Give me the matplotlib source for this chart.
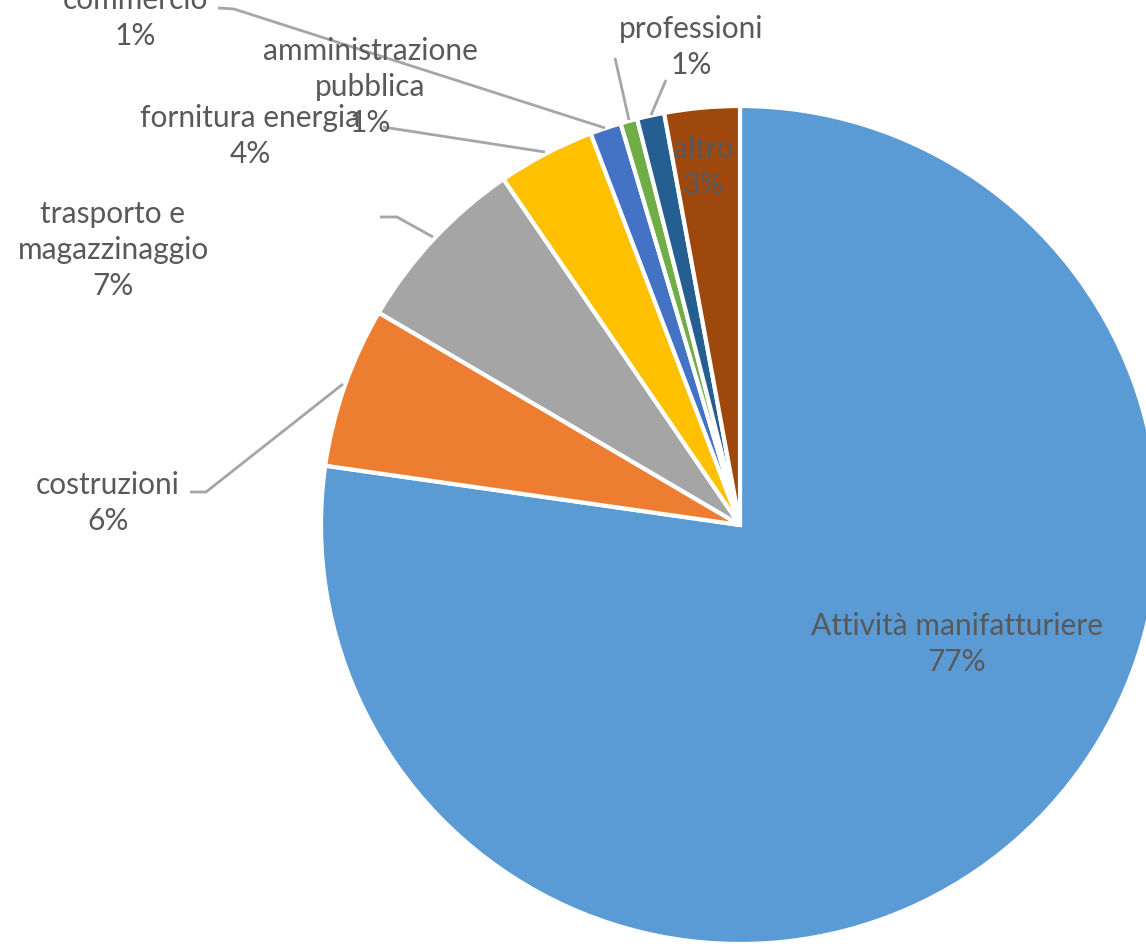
import matplotlib
matplotlib.use('Agg')
import matplotlib.pyplot as plt

labels = ['Attività manifatturiere', 'costruzioni', 'trasporto e\nmagazzinaggio',
          'fornitura energia', 'commercio', 'amministrazione\npubblica',
          'professioni', 'altro']
values = [77.3, 6.2, 7.0, 3.75, 1.2, 0.65, 1.05, 2.9]
colors = ['#5B9BD5', '#ED7D31', '#A5A5A5', '#FFC000', '#4472C4',
          '#70AD47', '#255E91', '#9E480E']

W, H = 1146, 946
fig = plt.figure(figsize=(W / 100, H / 100), dpi=100)
ax = fig.add_axes([0, 0, 1, 1])

# pie centre / radius in pixel units (y measured from bottom)
cx, cy, r = 740, H - 525, 419
ax.pie(values, colors=colors, startangle=90, counterclock=False,
       center=(cx, cy), radius=r,
       wedgeprops=dict(edgecolor='white', linewidth=3))

ax.set_xlim(0, W)
ax.set_ylim(0, H)
ax.set_aspect('equal')
ax.axis('off')

fs = 21.5
txt = dict(fontsize=fs, color='#595959', family=['Lato', 'DejaVu Sans'],
           ha='center', va='center', linespacing=40 / (fs * 100 / 72))

def label(i, x, y):
    s = labels[i] + '\n' + '{:.0f}%'.format(values[i])
    ax.text(x, H - y, s, **txt)

# label positions (pixels, from top) -- text block centres
label(0, 957, 644)
label(1, 108, 503)
label(2, 113, 250)
label(3, 250, 136)
label(4, 135, 18)
label(5, 370, 87)
label(6, 691, 47)
label(7, 703, 167)

# leader lines
lc = dict(color='#A6A6A6', lw=2, solid_capstyle='butt')
leaders = [
    [(218, 8), (234, 9), (605, 128)],        # commercio
    [(615, 58), (629, 120)],                 # amministrazione pubblica
    [(666, 80), (651, 115)],                 # professioni
    [(383, 127), (545, 152)],                # fornitura energia
    [(380, 217), (397, 217), (433, 237)],    # trasporto
    [(190, 492), (206, 492), (343, 384)],    # costruzioni
]
for pts in leaders:
    xs = [p[0] for p in pts]
    ys = [H - p[1] for p in pts]
    ax.plot(xs, ys, **lc)

fig.savefig('out.png', dpi=100, facecolor='white')
